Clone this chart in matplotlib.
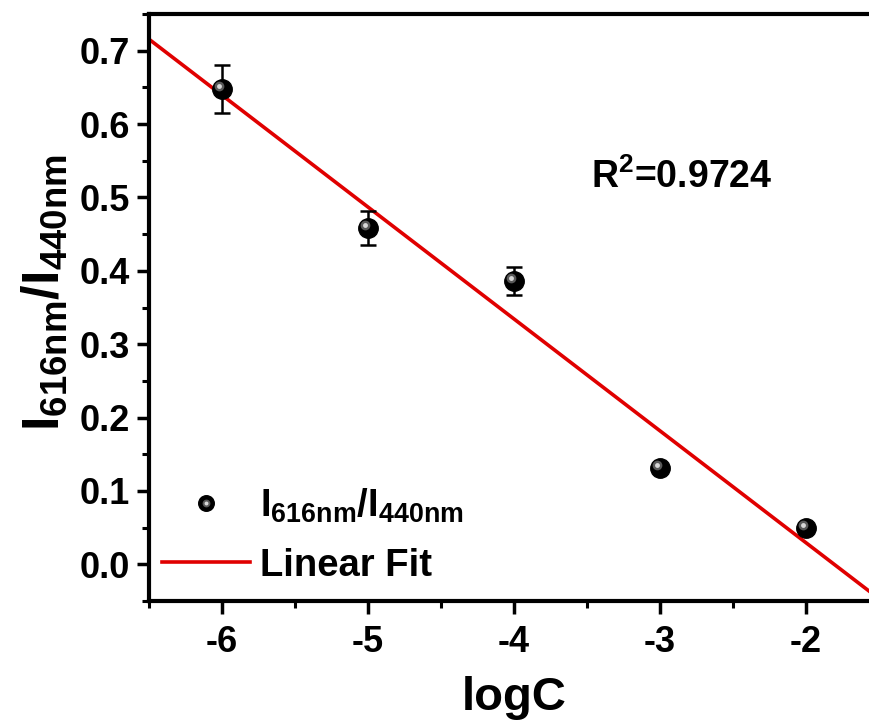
import numpy as np
import matplotlib as mpl
mpl.use('agg')
from matplotlib import pyplot as plt
from matplotlib import transforms
from matplotlib.legend_handler import HandlerTuple

logc = [-6, -5, -4, -3, -2]
ratio = [0.648, 0.458, 0.386, 0.131, 0.049]
ratio_err = [0.033, 0.023, 0.019, 0.004, 0.004]
r2_text = r'R$^\mathbf{2}$=0.9724'

plt.rcParams['font.family'] = 'Liberation Sans'
plt.rcParams['font.weight'] = 'bold'
plt.rcParams['axes.labelweight'] = 'bold'
plt.rcParams['axes.unicode_minus'] = False
plt.rcParams['mathtext.fontset'] = 'custom'
plt.rcParams['mathtext.rm'] = 'Liberation Sans:bold'
plt.rcParams['mathtext.bf'] = 'Liberation Sans:bold'
plt.rcParams['mathtext.it'] = 'Liberation Sans:bold'

fig = plt.figure(figsize=(8.69, 7.24), dpi=100)
ax = fig.add_axes([149 / 869, 123 / 724, 730 / 869, 587 / 724])

# linear fit
slope, icpt = np.polyfit(logc, ratio, 1)
xf = np.array([-6.5, -1.5])
fit_line, = ax.plot(xf, slope * xf + icpt, color='#e00000', lw=2.6, zorder=2)

ax.errorbar(logc, ratio, yerr=ratio_err, fmt='none', ecolor='black',
            elinewidth=1.8, capsize=6, capthick=1.8, zorder=3)
dots, = ax.plot(logc, ratio, 'o', color='black', ms=14, mec='black', zorder=4)
shift = transforms.offset_copy(ax.transData, fig=fig, x=-2.2, y=2.2, units='points')
glow, = ax.plot(logc, ratio, 'o', color='#707070', ms=7, mec='none',
                alpha=0.8, transform=shift, zorder=5)
shine, = ax.plot(logc, ratio, 'o', color='#d8d8d8', ms=3.5, mec='none',
                 transform=shift, zorder=6)

ax.set_xlim(-6.5, -1.5)
ax.set_ylim(-0.05, 0.75)
ax.set_xticks([-6, -5, -4, -3, -2])
ax.set_yticks(np.arange(0, 0.71, 0.1))
ax.set_xticks(np.arange(-6.5, -1.4, 0.5), minor=True)
ax.set_yticks(np.arange(-0.05, 0.751, 0.05), minor=True)
ax.set_yticklabels(['%.1f' % v for v in np.arange(0, 0.71, 0.1)])
ax.tick_params(which='major', length=9, width=2.5, labelsize=26, pad=5)
ax.tick_params(axis='x', which='major', pad=8)
ax.tick_params(which='minor', length=5, width=2.2)
for s in ax.spines.values():
    s.set_linewidth(3)

ax.set_xlabel('logC', fontsize=34, labelpad=12)
ax.set_ylabel(r'$\mathbf{I_{616nm}/I_{440nm}}$', fontsize=37.5)
ax.yaxis.set_label_coords(-0.108, 0.526)

ax.text(-2.85, 0.528, r2_text, fontsize=27, ha='center', va='center')

ax.legend([(dots, glow, shine), fit_line],
          [r'$\mathbf{I_{616nm}/I_{440nm}}$', 'Linear Fit'],
          handler_map={tuple: HandlerTuple(ndivide=1)},
          loc='center left', bbox_to_anchor=(13 / 730, 0.112), frameon=False,
          borderpad=0, borderaxespad=0,
          fontsize=27.5, handlelength=2.3, handletextpad=0.26, labelspacing=0.6,
          markerscale=0.8)

plt.savefig('out.png', dpi=100)
